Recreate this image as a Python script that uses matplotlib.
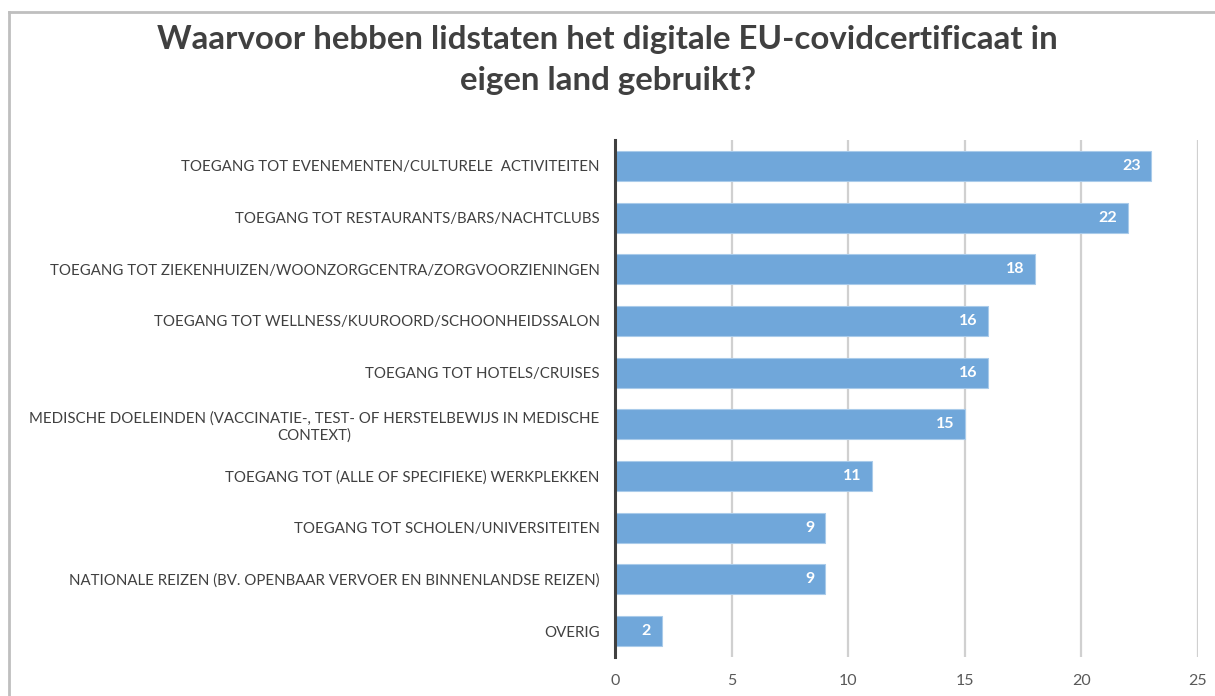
import matplotlib.pyplot as plt
from matplotlib.lines import Line2D

categories = [
    "TOEGANG TOT EVENEMENTEN/CULTURELE  ACTIVITEITEN",
    "TOEGANG TOT RESTAURANTS/BARS/NACHTCLUBS",
    "TOEGANG TOT ZIEKENHUIZEN/WOONZORGCENTRA/ZORGVOORZIENINGEN",
    "TOEGANG TOT WELLNESS/KUUROORD/SCHOONHEIDSSALON",
    "TOEGANG TOT HOTELS/CRUISES",
    "MEDISCHE DOELEINDEN (VACCINATIE-, TEST- OF HERSTELBEWIJS IN MEDISCHE\nCONTEXT)",
    "TOEGANG TOT (ALLE OF SPECIFIEKE) WERKPLEKKEN",
    "TOEGANG TOT SCHOLEN/UNIVERSITEITEN",
    "NATIONALE REIZEN (BV. OPENBAAR VERVOER EN BINNENLANDSE REIZEN)",
    "OVERIG",
]
values = [23, 22, 18, 16, 16, 15, 11, 9, 9, 2]
xticks = [0, 5, 10, 15, 20, 25]

title = "Waarvoor hebben lidstaten het digitale EU-covidcertificaat in\neigen land gebruikt?"

plt.rcParams['font.family'] = ['Lato', 'DejaVu Sans']

fig = plt.figure(figsize=(12.15, 6.96), dpi=100)
ax = fig.add_axes([615 / 1215, 1 - 657 / 696, (1198 - 615) / 1215, (657 - 140) / 696])

ypos = list(range(len(values)))
ax.barh(ypos, values, height=0.58, color='#70a7da', edgecolor='#a9cbea', linewidth=0.8, zorder=3)
for y, v in zip(ypos, values):
    ax.text(v - 0.45, y, str(v), ha='right', va='center', color='white',
            fontsize=11.5, fontweight='bold', zorder=4)

ax.set_ylim(len(values) - 0.5, -0.5)
ax.set_xlim(0, 25)
ax.set_xticks(xticks)
ax.set_yticks(ypos)
ax.set_yticklabels(categories, fontsize=10.8, color='#404040', multialignment='center')
ax.tick_params(axis='x', labelsize=11.5, labelcolor='#595959', length=0, pad=12)
ax.tick_params(axis='y', length=0, pad=11)
ax.grid(axis='x', color='#d0d0d0', linewidth=1.6, zorder=0)
for s in ['top', 'right', 'bottom']:
    ax.spines[s].set_visible(False)
ax.spines['left'].set_color('#404040')
ax.spines['left'].set_linewidth(2.2)
ax.spines['left'].set_zorder(5)

fig.text(0.5, 1 - 60 / 696, title, ha='center', va='center', fontsize=23.8,
         fontweight='bold', color='#404040', linespacing=1.5)

# chart frame (top and left edges)
fig.add_artist(Line2D([9 / 1215, 1], [1 - 12 / 696, 1 - 12 / 696], color='#bfbfbf', linewidth=2))
fig.add_artist(Line2D([9 / 1215, 9 / 1215], [0, 1 - 12 / 696], color='#bfbfbf', linewidth=2))

fig.savefig('out.png', dpi=100)
